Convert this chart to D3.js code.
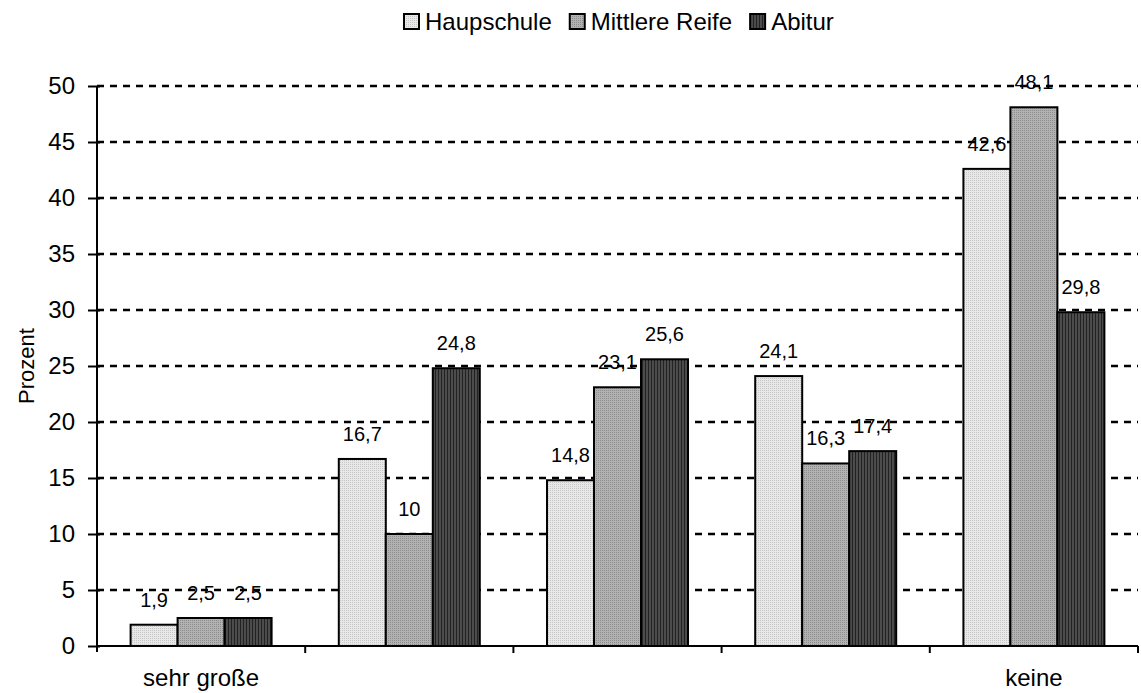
<!DOCTYPE html>
<html><head><meta charset="utf-8">
<script src="https://cdn.jsdelivr.net/npm/d3@7"></script>
<style>body{margin:0;background:#fff}svg{display:block}text{font-family:"Liberation Sans",Arial,sans-serif;fill:#000}</style>
</head><body><svg id="c" width="1141" height="693"></svg>
<script>
const categories = ["sehr große", "c2", "c3", "c4", "keine"];
const categoryLabels = ["sehr große", "", "", "", "keine"];
const seriesNames = ["Haupschule", "Mittlere Reife", "Abitur"];
const haupschule = [1.9, 16.7, 14.8, 24.1, 42.6];
const mittlereReife = [2.5, 10, 23.1, 16.3, 48.1];
const abitur = [2.5, 24.8, 25.6, 17.4, 29.8];
const yTicks = [0, 5, 10, 15, 20, 25, 30, 35, 40, 45, 50];
const seriesValues = [haupschule, mittlereReife, abitur];

const svg = d3.select("#c");
const defs = svg.append("defs");
const p1 = defs.append("pattern").attr("id","p0").attr("width",2).attr("height",2).attr("patternUnits","userSpaceOnUse");
p1.append("rect").attr("width",2).attr("height",2).attr("fill","#e8e8e8");
p1.append("rect").attr("width",1).attr("height",1).attr("fill","#c6c6c6");
const p2 = defs.append("pattern").attr("id","p1").attr("width",2).attr("height",2).attr("patternUnits","userSpaceOnUse");
p2.append("rect").attr("width",2).attr("height",2).attr("fill","#b2b2b2");
p2.append("rect").attr("width",1).attr("height",1).attr("fill","#8c8c8c");
const p3 = defs.append("pattern").attr("id","p2").attr("width",3).attr("height",3).attr("patternUnits","userSpaceOnUse");
p3.append("rect").attr("width",3).attr("height",3).attr("fill","#4c4c4c");
p3.append("rect").attr("width",1).attr("height",3).attr("fill","#222");
const fills = ["url(#p0)","url(#p1)","url(#p2)"];

const mLeft = 97, mRight = 1138, mTop = 86, mBottom = 646;
const x = d3.scaleBand().domain(categories).range([mLeft, mRight]).paddingInner(0).paddingOuter(0);
const xs = d3.scaleBand().domain(d3.range(3)).range([0, x.bandwidth()]).paddingInner(0).paddingOuter(0.715);
const y = d3.scaleLinear().domain([0, 50]).range([mBottom, mTop]);

svg.append("g").selectAll("line").data(yTicks.filter(d=>d>0)).join("line")
  .attr("x1", mLeft).attr("x2", mRight).attr("y1", d=>y(d)).attr("y2", d=>y(d))
  .attr("stroke","#000").attr("stroke-width",2.5).attr("stroke-dasharray","7,6");

const g = svg.append("g");
seriesValues.forEach((vals, si) => {
  g.selectAll(".b"+si).data(vals).join("rect").attr("class","b"+si)
    .attr("x", (d,i)=>x(categories[i]) + xs(si))
    .attr("y", d=>y(d)).attr("width", xs.bandwidth()).attr("height", d=>mBottom - y(d))
    .attr("fill", fills[si]).attr("stroke","#000").attr("stroke-width",2);
});
seriesValues.forEach((vals, si) => {
  g.selectAll(".t"+si).data(vals).join("text").attr("class","t"+si)
    .attr("x", (d,i)=>x(categories[i]) + xs(si) + xs.bandwidth()/2)
    .attr("y", d=>y(d) - 18).attr("text-anchor","middle").attr("font-size",20)
    .text(d=>String(d).replace(".", ","));
});

const ya = d3.axisLeft(y).tickValues(yTicks).tickSize(8).tickPadding(14);
const yg = svg.append("g").attr("transform",`translate(${mLeft},0)`).call(ya);
yg.select(".domain").attr("stroke","#000").attr("stroke-width",2).attr("d",`M0,${mBottom+6}V${mTop}`);
yg.selectAll(".tick line").attr("stroke","#000").attr("stroke-width",2).attr("x2",-9).attr("x1",3);
yg.selectAll(".tick text").attr("font-size",24).attr("fill","#000").attr("font-family","Liberation Sans, Arial, sans-serif");

const xg = svg.append("g").attr("transform",`translate(0,${mBottom})`);
xg.append("line").attr("x1",mLeft).attr("x2",mRight).attr("stroke","#000").attr("stroke-width",2);
const bounds = categories.map(c=>x(c)).concat([mRight]);
xg.selectAll(".xt").data(bounds.slice(1)).join("line").attr("class","xt")
  .attr("x1",d=>d).attr("x2",d=>d).attr("y1",0).attr("y2",7).attr("stroke","#000").attr("stroke-width",2);
xg.selectAll(".xl").data(categories).join("text").attr("class","xl")
  .attr("x", d=>x(d)+x.bandwidth()/2).attr("y", 40).attr("text-anchor","middle").attr("font-size",24)
  .text((d,i)=>categoryLabels[i]);

svg.append("text").attr("transform","translate(34,366) rotate(-90)").attr("text-anchor","middle")
  .attr("font-size",22).text("Prozent");

const lg = svg.append("g");
let lx = 404;
seriesNames.forEach((n,i)=>{
  lg.append("rect").attr("x",lx).attr("y",14).attr("width",15).attr("height",15)
    .attr("fill",fills[i]).attr("stroke","#000").attr("stroke-width",2);
  const t = lg.append("text").attr("x",lx+21).attr("y",30).attr("font-size",24).text(n);
  lx = lx + 21 + t.node().getComputedTextLength() + 18;
});
</script></body></html>
